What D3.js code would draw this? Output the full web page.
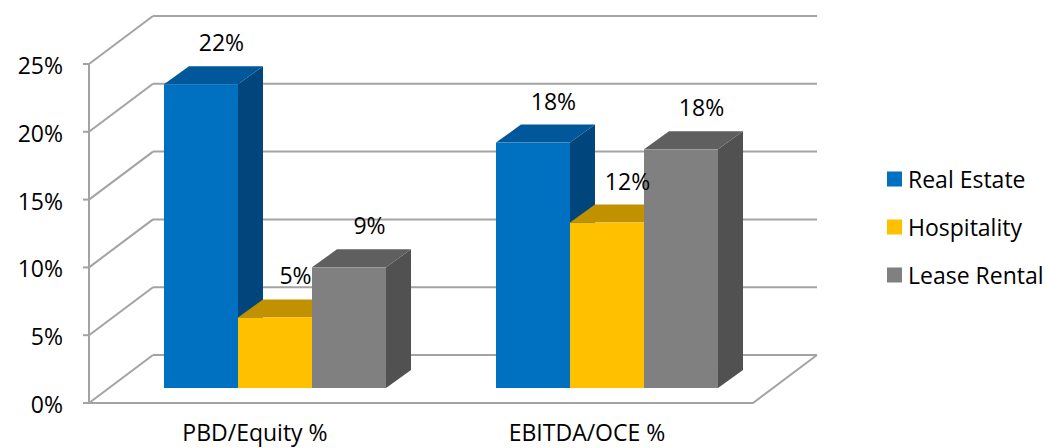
<!DOCTYPE html>
<html>
<head>
<meta charset="utf-8">
<script src="https://cdn.jsdelivr.net/npm/d3@7"></script>
<style>
  html, body { margin: 0; padding: 0; background: #fff; }
  svg { display: block; }
  text { font-family: "Open Sans", "Noto Sans", sans-serif; fill: #000; }
</style>
</head>
<body>
<svg id="chart" width="1046" height="448"></svg>
<script>
// Metrics (categories on the x axis)
const categories = ["PBD/Equity %", "EBITDA/OCE %"];
// Business segments (one bar per segment in each category)
const series = ["Real Estate", "Hospitality", "Lease Rental"];
// Values per segment, in category order
const realEstate  = [0.224, 0.181];
const hospitality = [0.052, 0.122];
const leaseRental = [0.089, 0.176];
// Value axis ticks
const yTicks = [0, 0.05, 0.10, 0.15, 0.20, 0.25];

const values = { "Real Estate": realEstate, "Hospitality": hospitality, "Lease Rental": leaseRental };

// Face colours for each segment: front, top, side
const palette = {
  "Real Estate":  { front: "#0070c0", top: "#00589a", side: "#00467c" },
  "Hospitality":  { front: "#ffc000", top: "#c29100", side: "#a67c00" },
  "Lease Rental": { front: "#808080", top: "#5f5f5f", side: "#515151" }
};

const svg = d3.select("#chart");

// Front plane of the plot box
const plotLeft = 89, plotRight = 753, plotBottom = 403, plotTop = 64;
// Oblique depth of the walls and of the bars
const wallDX = 64, wallDY = -48;
const rowDX = 20, rowDY = -15;      // plane in which the bars stand
const barDX = 25, barDY = -18;      // thickness of each bar

const y = d3.scaleLinear().domain([0, 0.25]).range([plotBottom, plotTop]);
const x0 = d3.scaleBand().domain(categories).range([plotLeft, plotRight]);
const x1 = d3.scaleBand().domain(series).range([0, x0.bandwidth()]).paddingOuter(0.743);

const grid = svg.append("g")
  .attr("fill", "none")
  .attr("stroke", "#a3a3a3")
  .attr("stroke-width", 2);

// Back wall gridlines
grid.selectAll("line.back").data(yTicks).join("line")
  .attr("class", "back")
  .attr("x1", plotLeft + wallDX).attr("x2", plotRight + wallDX)
  .attr("y1", d => y(d) + wallDY).attr("y2", d => y(d) + wallDY);

// Side wall gridlines
grid.selectAll("line.side").data(yTicks).join("line")
  .attr("class", "side")
  .attr("x1", plotLeft).attr("x2", plotLeft + wallDX)
  .attr("y1", d => y(d)).attr("y2", d => y(d) + wallDY);

// Floor front and right edges
grid.append("path")
  .attr("d", `M${plotLeft},${y(0)}L${plotRight},${y(0)}L${plotRight + wallDX},${y(0) + wallDY}`);

// Value axis line and ticks
grid.append("line")
  .attr("x1", plotLeft).attr("x2", plotLeft)
  .attr("y1", y(0)).attr("y2", y(0.25));
grid.selectAll("line.tick").data(yTicks).join("line")
  .attr("class", "tick")
  .attr("x1", plotLeft - 6).attr("x2", plotLeft)
  .attr("y1", d => y(d)).attr("y2", d => y(d));

const fmt = d3.format(".0%");

svg.append("g").selectAll("text").data(yTicks).join("text")
  .attr("x", 63)
  .attr("y", d => y(d) + 1)
  .attr("text-anchor", "end")
  .attr("dominant-baseline", "central")
  .style("font-size", "23px")
  .text(d => fmt(d));

// Bars, painted left to right so each front face covers its neighbour's side
const bars = [];
categories.forEach((c, ci) => {
  series.forEach(s => {
    bars.push({ cat: c, ser: s, v: values[s][ci] });
  });
});

const barG = svg.append("g");
bars.forEach(b => {
  const xl = x0(b.cat) + x1(b.ser) + rowDX;
  const xr = xl + x1.bandwidth();
  const yb = y(0) + rowDY;
  const yt = y(b.v) + rowDY;
  const col = palette[b.ser];
  const g = barG.append("g");
  // side face
  g.append("path")
    .attr("d", `M${xr},${yt}L${xr + barDX},${yt + barDY}L${xr + barDX},${yb + barDY}L${xr},${yb}Z`)
    .attr("fill", col.side);
  // top face
  g.append("path")
    .attr("d", `M${xl},${yt}L${xl + barDX},${yt + barDY}L${xr + barDX},${yt + barDY}L${xr},${yt}Z`)
    .attr("fill", col.top);
  // front face
  g.append("rect")
    .attr("x", xl).attr("y", yt)
    .attr("width", xr - xl).attr("height", yb - yt)
    .attr("fill", col.front);
});

// Data labels above each bar
svg.append("g").selectAll("text").data(bars).join("text")
  .attr("x", d => x0(d.cat) + x1(d.ser) + rowDX + x1.bandwidth() / 2 + barDX / 2 + 8)
  .attr("y", d => y(d.v) + rowDY + barDY - 15)
  .attr("text-anchor", "middle")
  .style("font-size", "23px")
  .text(d => fmt(d.v));

// Category labels
svg.append("g").selectAll("text").data(categories).join("text")
  .attr("x", d => x0(d) + x0.bandwidth() / 2)
  .attr("y", 441)
  .attr("text-anchor", "middle")
  .style("font-size", "23px")
  .text(d => d);

// Legend
const legend = svg.append("g").selectAll("g").data(series).join("g")
  .attr("transform", (d, i) => `translate(887, ${179 + i * 48})`);
legend.append("rect")
  .attr("x", 0).attr("y", -7.5)
  .attr("width", 15).attr("height", 15)
  .attr("fill", d => palette[d].front);
legend.append("text")
  .attr("x", 21).attr("y", 0)
  .attr("dominant-baseline", "central")
  .style("font-size", "23px")
  .text(d => d);
</script>
</body>
</html>
